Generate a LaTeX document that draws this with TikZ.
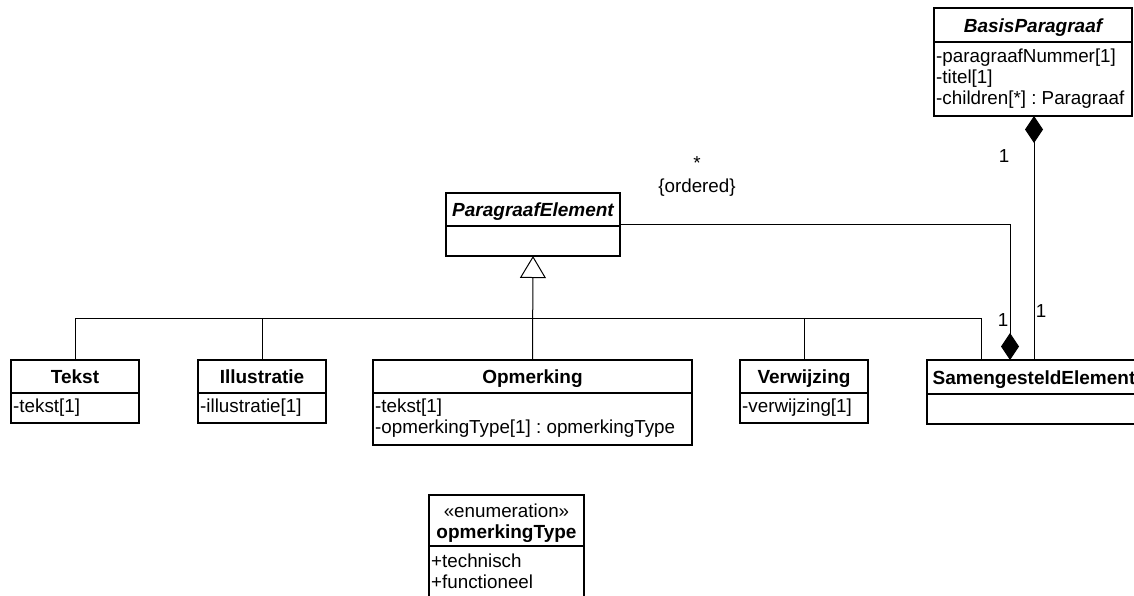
\documentclass[tikz,border=0pt]{standalone}
\usepackage{fontspec}
\setmainfont{Liberation Sans}
\usetikzlibrary{arrows.meta}
\frenchspacing

\tikzset{
  cls/.style={draw, line width=1.3pt, rectangle, inner sep=0pt, outer sep=0pt, anchor=north west},
  divider/.style={line width=1.3pt},
  hdr/.style={inner sep=0pt, anchor=base, font=\fontsize{19}{21}\selectfont\bfseries},
  ahdr/.style={inner sep=0pt, anchor=base, font=\fontsize{19}{21}\selectfont\bfseries\itshape},
  attr/.style={inner sep=0pt, anchor=west, font=\fontsize{18.8}{21}\selectfont},
  lbl/.style={inner sep=0pt, font=\fontsize{18.8}{21}\selectfont},
  link/.style={line width=1pt},
  gen/.style={link, -{Triangle[open, length=22pt, width=26pt, line width=1pt]}},
  comp/.style={link, {Diamond[length=27pt, width=18pt]}-},
  aggr/.style={link, -{Diamond[length=27pt, width=18pt]}},
}

\begin{document}
\begin{tikzpicture}[x=1pt, y=-1pt]
  \clip (0,0) rectangle (1134,595);
  \fill[white] (0,0) rectangle (1134,595);

  % BasisParagraaf
  \node[cls, minimum width=198pt, minimum height=108pt] (basis) at (934,8) {};
  \draw[divider] (934,42) -- (1132,42);
  \node[ahdr] (basisName) at (1033,32) {BasisParagraaf};
  \node[attr] (basisA1) at (936,58) {-paragraafNummer[1]};
  \node[attr] (basisA2) at (936,79) {-titel[1]};
  \node[attr] (basisA3) at (936,100) {-children[*] : Paragraaf};

  % ParagraafElement
  \node[cls, minimum width=174pt, minimum height=63pt] (pe) at (446,193) {};
  \draw[divider] (446,226) -- (620,226);
  \node[ahdr] (peName) at (533,216) {ParagraafElement};

  % Tekst
  \node[cls, minimum width=128pt, minimum height=63pt] (tekst) at (11,360) {};
  \draw[divider] (11,393) -- (139,393);
  \node[hdr] (tekstName) at (75,383) {Tekst};
  \node[attr] (tekstA1) at (13,408) {-tekst[1]};

  % Illustratie
  \node[cls, minimum width=128pt, minimum height=63pt] (illu) at (198,360) {};
  \draw[divider] (198,393) -- (326,393);
  \node[hdr] (illuName) at (262,383) {Illustratie};
  \node[attr] (illuA1) at (200,408) {-illustratie[1]};

  % Opmerking
  \node[cls, minimum width=319pt, minimum height=85pt] (opm) at (373,360) {};
  \draw[divider] (373,393) -- (692,393);
  \node[hdr] (opmName) at (532.5,383) {Opmerking};
  \node[attr] (opmA1) at (375,408) {-tekst[1]};
  \node[attr] (opmA2) at (375,429) {-opmerkingType[1] : opmerkingType};

  % Verwijzing
  \node[cls, minimum width=128pt, minimum height=63pt] (verw) at (740,360) {};
  \draw[divider] (740,393) -- (868,393);
  \node[hdr] (verwName) at (804,383) {Verwijzing};
  \node[attr] (verwA1) at (742,408) {-verwijzing[1]};

  % SamengesteldElement
  \node[cls, minimum width=214pt, minimum height=64pt] (sam) at (927,360) {};
  \draw[divider] (927,394) -- (1141,394);
  \node[hdr] (samName) at (1034,384) {SamengesteldElement};

  % opmerkingType enumeration
  \node[cls, minimum width=155pt, minimum height=120pt] (enum) at (429,495) {};
  \draw[divider] (429,546) -- (584,546);
  \node[lbl, anchor=base] (enumStereo) at (506.5,517) {«enumeration»};
  \node[hdr] (enumName) at (506.5,538) {opmerkingType};
  \node[attr] (enumA1) at (431,561) {+technisch};
  \node[attr] (enumA2) at (431,582) {+functioneel};

  % generalisation tree
  \coordinate (samDrop) at (981,360);
  \draw[gen] (opm.north) -- (pe.south);
  \draw[link] (tekst.north) |- (opm.north |- 0,318);
  \draw[link] (illu.north) -- (illu.north |- 0,318);
  \draw[link] (verw.north) -- (verw.north |- 0,318);
  \draw[link] (samDrop) |- (opm.north |- 0,318);

  % association ParagraafElement -- SamengesteldElement
  \coordinate (samAggr) at (1010,360);
  \draw[aggr] (pe.east) -| (samAggr);
  \node[lbl] (multStar) at (697,163) {*};
  \node[lbl] (ordered) at (697,188) {\{ordered\}};
  \node[lbl] (multAggr) at (1003,320) {1};

  % composition BasisParagraaf -- SamengesteldElement
  \coordinate (samComp) at (1034,360);
  \draw[comp] (basis.south -| samComp) -- (samComp);
  \node[lbl] (multCompTop) at (1004,156) {1};
  \node[lbl] (multCompBot) at (1041,311) {1};
\end{tikzpicture}
\end{document}
